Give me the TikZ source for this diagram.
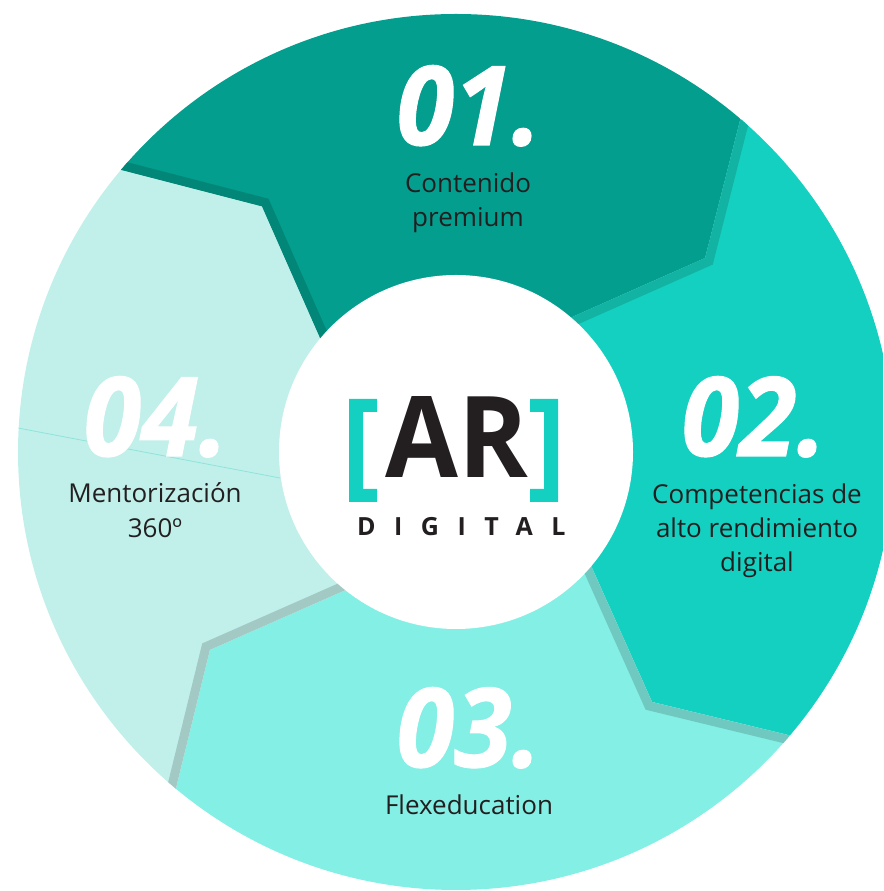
\documentclass[tikz,border=0pt]{standalone}
\usepackage{fontspec}
\setmainfont{Open Sans}
\usetikzlibrary{calc}
\definecolor{segA}{HTML}{039E8E}
\definecolor{segB}{HTML}{14D0C0}
\definecolor{segC}{HTML}{84EFE5}
\definecolor{segD}{HTML}{C1F0EB}
\definecolor{shA}{HTML}{028678}
\definecolor{shB}{HTML}{12B3A2}
\definecolor{shC}{HTML}{6FC9C0}
\definecolor{shD}{HTML}{A3C9C5}
\definecolor{ink}{HTML}{231F20}
\definecolor{seam}{HTML}{8FE3DA}
\newcommand\pSegA{(C) -- (Ie1) -- (K1) -- (Oe1) -- ($(C)+(49.5:560)$) arc[start angle=49.5,end angle=139.9,radius=560] -- (Oe4) -- (K4) -- (Ie4) -- cycle}
\newcommand\pSegB{(C) -- (Ie2) -- (K2) -- (Oe2) -- ($(C)+(-40.2:560)$) arc[start angle=-40.2,end angle=49.5,radius=560] -- (Oe1) -- (K1) -- (Ie1) -- cycle}
\newcommand\pSegC{(C) -- (Ie3) -- (K3) -- (Oe3) -- ($(C)+(-129.7:560)$) arc[start angle=-129.7,end angle=-40.2,radius=560] -- (Oe2) -- (K2) -- (Ie2) -- cycle}
\newcommand\pSegD{(C) -- (Ie4) -- (K4) -- (Oe4) -- ($(C)+(139.9:560)$) arc[start angle=139.9,end angle=230.3,radius=560] -- (Oe3) -- (K3) -- (Ie3) -- cycle}
\newcommand\numtxt[1]{\scalebox{0.95}[1]{#1}}
\begin{document}
\begin{tikzpicture}[x=1pt,y=1pt,
  lbl/.style={inner sep=0pt, anchor=base, text=ink, font=\fontsize{26}{34.5}\selectfont},
  num/.style={inner sep=0pt, anchor=base, text=white, font=\fontsize{110}{110}\selectfont\bfseries\itshape\addfontfeature{FakeBold=1}},
  band/.style={line width=18, line join=miter}]
\useasboundingbox (0,0) rectangle (883,891);
\clip (0,0) rectangle (883,891);
\coordinate (C) at (456,439);
% boundary 1|2 (edge of segment 1)
\coordinate (I1) at ($(C)+(49.3:178)$);
\coordinate (K1) at ($(C)+(37.9:315.7)$);
\coordinate (O1) at ($(C)+(49.5:438)$);
% boundary 2|3 (edge of segment 2)
\coordinate (I2) at ($(C)+(-40.5:179)$);
\coordinate (K2) at ($(C)+(-51.9:317.7)$);
\coordinate (O2) at ($(C)+(-40.2:440)$);
% boundary 3|4 (edge of segment 3)
\coordinate (I3) at ($(C)+(-129.2:180)$);
\coordinate (K3) at ($(C)+(-141.2:315.8)$);
\coordinate (O3) at ($(C)+(-129.7:439)$);
% boundary 4|1 (edge of segment 4)
\coordinate (I4) at ($(C)+(140.0:177.5)$);
\coordinate (K4) at ($(C)+(128.3:313)$);
\coordinate (O4) at ($(C)+(139.9:438)$);
\foreach \k in {1,2,3,4}{
  \coordinate (Ie\k) at ($(K\k)!1.6!(I\k)$);
  \coordinate (Oe\k) at ($(K\k)!1.4!(O\k)$);
}
\begin{scope}
  \clip (C) circle[radius=438];
  \fill[segA] \pSegA;
  \fill[segB] \pSegB;
  \fill[segC] \pSegC;
  \fill[segD] \pSegD;
  \begin{scope}\clip \pSegB; \draw[band, shB] (Ie1) -- (K1) -- (Oe1);\end{scope}
  \begin{scope}\clip \pSegC; \draw[band, shC] (Ie2) -- (K2) -- (Oe2);\end{scope}
  \begin{scope}\clip \pSegD; \draw[band, shD] (Ie3) -- (K3) -- (Oe3);\end{scope}
  \begin{scope}\clip \pSegA; \draw[band, shA] (Ie4) -- (K4) -- (Oe4);\end{scope}
  \coordinate (s1) at (18,463);
  \coordinate (s2) at (280,413);
  \draw[seam, line width=0.8] (s1) -- (s2);
\end{scope}
\fill[white] (C) circle[radius=177];
% numbers
\node[num] (n1) at (469,746) {\numtxt{01.}};
\node[num] (n2) at (754,435) {\numtxt{02.}};
\node[num] (n3) at (469,124) {\numtxt{03.}};
\node[num] (n4) at (156,435) {\numtxt{04.}};
% labels
\node[lbl] (t1a) at (468,698.3) {Contenido};
\node[lbl] (t1b) at (468,664.3) {premium};
\node[lbl] (t2a) at (757,387.7) {Competencias de};
\node[lbl] (t2b) at (757,353) {alto rendimiento};
\node[lbl] (t2c) at (757,319.3) {digital};
\node[lbl] (t3a) at (469,76) {Flexeducation};
\node[lbl] (t4a) at (155,388) {Mentorización};
\node[lbl] (t4b) at (155,353) {360º};
% logo
\fill[segB] (377,492) -- (349,492) -- (349,389) -- (377,389) -- (377,402) -- (363,402) -- (363,479) -- (377,479) -- cycle;
\fill[segB] (530,492) -- (558,492) -- (558,389) -- (530,389) -- (530,402) -- (544,402) -- (544,479) -- (530,479) -- cycle;
\node[inner sep=0pt, anchor=base, text=ink, font=\fontsize{113}{113}\selectfont\bfseries] (ar) at (456.5,413) {\scalebox{0.935}[1]{AR}};
\node[inner sep=0pt, anchor=base west, text=ink, font=\fontsize{25}{25}\selectfont\bfseries\addfontfeature{LetterSpace=74}] (dig) at (357,355) {DIGITAL};
\end{tikzpicture}
\end{document}
